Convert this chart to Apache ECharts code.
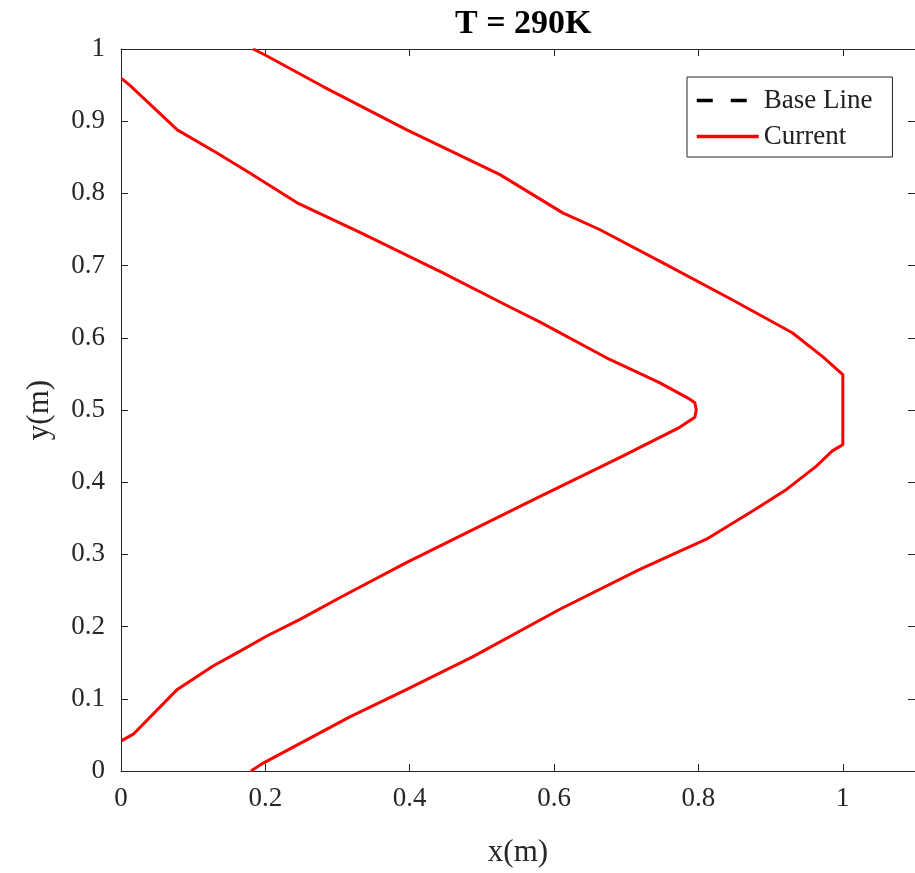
<!DOCTYPE html>
<html>
<head>
<meta charset="utf-8">
<title>T = 290K</title>
<script src="https://cdn.jsdelivr.net/npm/echarts@6/dist/echarts.min.js"></script>
<style>
  html, body { margin: 0; padding: 0; background: #fff; }
  #main { width: 915px; height: 873px; }
</style>
</head>
<body>
<div id="main"></div>
<script>
// outer red boundary (bottom -> top)
var outerX = [0.180, 0.197, 0.317, 0.396, 0.487, 0.608, 0.718, 0.811, 0.875, 0.922, 0.963, 0.985, 1.0, 1.0, 0.972, 0.930, 0.846, 0.756, 0.663, 0.612, 0.525, 0.396, 0.280, 0.199, 0.183];
var outerY = [0, 0.011, 0.075, 0.113, 0.158, 0.224, 0.279, 0.321, 0.360, 0.390, 0.422, 0.443, 0.452, 0.549, 0.574, 0.607, 0.653, 0.701, 0.750, 0.773, 0.826, 0.888, 0.948, 0.992, 1.0];

// inner red boundary (bottom -> top)
var innerX = [0.001, 0.017, 0.078, 0.127, 0.165, 0.202, 0.248, 0.303, 0.396, 0.580, 0.695, 0.774, 0.795, 0.797, 0.795, 0.788, 0.746, 0.677, 0.580, 0.538, 0.446, 0.331, 0.244, 0.179, 0.133, 0.078, 0.012, 0.001];
var innerY = [0.042, 0.051, 0.113, 0.145, 0.166, 0.187, 0.210, 0.240, 0.289, 0.380, 0.436, 0.476, 0.490, 0.500, 0.510, 0.515, 0.538, 0.570, 0.622, 0.643, 0.690, 0.746, 0.787, 0.828, 0.856, 0.888, 0.950, 0.959];

// base line series has no points in this frame
var baseX = [];
var baseY = [];

var legendNames = ['Base Line', 'Current'];

var serif = '"Liberation Serif", "Times New Roman", serif';
var axisColor = '#262626';

function pairs(xs, ys) {
  var out = [];
  for (var i = 0; i < xs.length; i++) {
    out.push([xs[i], ys[i]]);
  }
  return out;
}

function axisCommon(extra) {
  var a = {
    type: 'value',
    axisLine: { show: true, onZero: false, lineStyle: { color: axisColor, width: 1 } },
    axisTick: { show: true, inside: true, length: 7, lineStyle: { color: axisColor, width: 1 } },
    splitLine: { show: false }
  };
  for (var k in extra) a[k] = extra[k];
  return a;
}

var chart = echarts.init(document.getElementById('main'), null, { renderer: 'canvas' });

var option = {
  animation: false,
  backgroundColor: '#fff',
  title: {
    text: 'T = 290K',
    left: 450,
    top: 2,
    textStyle: { fontFamily: serif, fontSize: 34, fontWeight: 'bold', color: '#000' }
  },
  legend: {
    data: legendNames,
    orient: 'vertical',
    left: 687,
    top: 77,
    padding: [10, 20, 7, 8],
    itemGap: 9,
    itemWidth: 62,
    itemHeight: 14,
    selectedMode: false,
    backgroundColor: '#fff',
    borderColor: axisColor,
    borderWidth: 1,
    itemStyle: { opacity: 0 },
    lineStyle: { width: 3.5 },
    textStyle: { fontFamily: serif, fontSize: 27, color: '#222' }
  },
  grid: { left: 121, top: 49, width: 795, height: 723 },
  xAxis: [
    axisCommon({
      position: 'bottom', min: 0, max: 1.1, interval: 0.2,
      name: 'x(m)', nameLocation: 'middle', nameGap: 66,
      nameTextStyle: { fontFamily: serif, fontSize: 31, color: axisColor },
      axisLabel: { showMaxLabel: false, fontFamily: serif, fontSize: 27, color: axisColor, margin: 14 }
    }),
    axisCommon({
      position: 'top', min: 0, max: 1.1, interval: 0.2,
      axisLabel: { show: false }
    })
  ],
  yAxis: [
    axisCommon({
      position: 'left', min: 0, max: 1, interval: 0.1,
      name: 'y(m)', nameLocation: 'middle', nameGap: 66,
      nameTextStyle: { fontFamily: serif, fontSize: 31, color: axisColor },
      axisLabel: { fontFamily: serif, fontSize: 27, color: axisColor, margin: 16 }
    }),
    axisCommon({
      position: 'right', min: 0, max: 1, interval: 0.1,
      axisLabel: { show: false }
    })
  ],
  series: [
    {
      name: 'Base Line',
      type: 'line',
      data: pairs(baseX, baseY),
      symbol: 'none',
      itemStyle: { color: '#000' },
      lineStyle: { color: '#000', width: 3, type: [16, 18] }
    },
    {
      name: 'Current',
      type: 'line',
      data: pairs(outerX, outerY),
      symbol: 'none',
      itemStyle: { color: '#ff0000' },
      lineStyle: { color: '#ff0000', width: 3 }
    },
    {
      name: 'Current',
      type: 'line',
      data: pairs(innerX, innerY),
      symbol: 'none',
      itemStyle: { color: '#ff0000' },
      lineStyle: { color: '#ff0000', width: 3 }
    }
  ]
};

chart.setOption(option);
</script>
</body>
</html>
